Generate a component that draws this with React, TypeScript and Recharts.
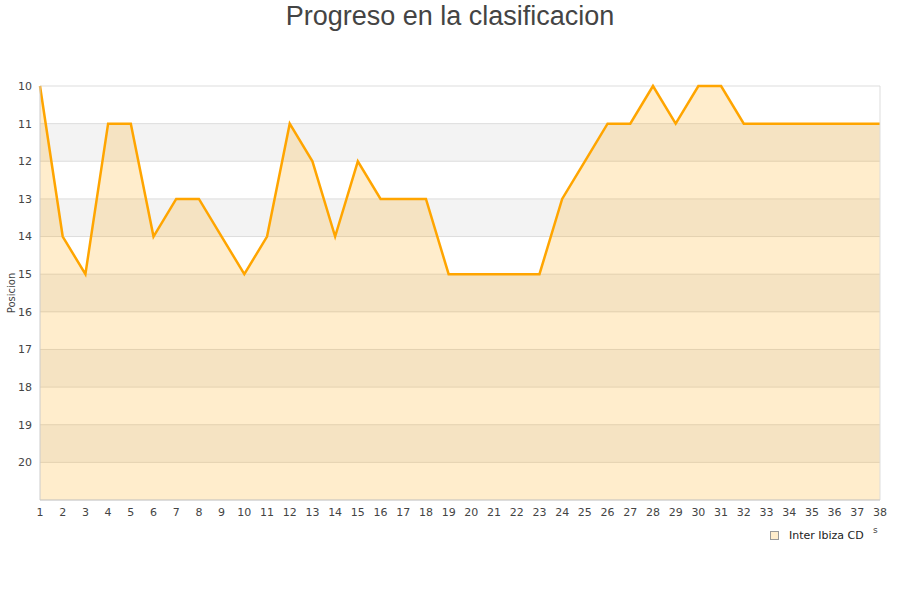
import React from 'react';
import { ComposedChart, Area, XAxis, YAxis, CartesianGrid, ReferenceLine, Label } from 'recharts';

const jornadas: number[] = Array.from({ length: 38 }, (_, i) => i + 1);
const posiciones: number[] = [
  10, 14, 15, 11, 11, 14, 13, 13, 14, 15,
  14, 11, 12, 14, 12, 13, 13, 13, 15, 15,
  15, 15, 15, 13, 12, 11, 11, 10, 11, 10,
  10, 11, 11, 11, 11, 11, 11, 11,
];
const yTicks: number[] = [10, 11, 12, 13, 14, 15, 16, 17, 18, 19, 20];
const seriesName = 'Inter Ibiza CD';
const title = 'Progreso en la clasificacion';
const yLabel = 'Posicion';

const data = jornadas.map((j, i) => ({ jornada: j, pos: posiciones[i] }));

const tickFont = { fontFamily: 'DejaVu Sans', fontSize: 11, fill: '#444' };

export default function App() {
  return (
    <div style={{ position: 'absolute', left: 0, top: 0, width: 900, height: 600, background: '#fff' }}>
      <div
        style={{
          position: 'absolute', left: 0, top: 0, width: 900, textAlign: 'center',
          fontFamily: 'Liberation Sans', fontSize: 27, lineHeight: '32px', color: '#444',
        }}
      >
        {title}
      </div>
      <ComposedChart
        width={900}
        height={600}
        data={data}
        margin={{ top: 86, right: 20, bottom: 70, left: 10 }}
      >
        <CartesianGrid
          vertical={false}
          stroke="#dddddd"
          horizontalFill={['#ffffff', '#f3f3f3']}
          fillOpacity={1}
        />
        <XAxis
          dataKey="jornada"
          type="number"
          domain={[1, 38]}
          ticks={jornadas}
          interval={0}
          tickLine={false}
          axisLine={{ stroke: '#cccccc' }}
          tick={tickFont}
        />
        <YAxis
          type="number"
          reversed
          domain={[10, 21]}
          ticks={yTicks}
          interval={0}
          width={30}
          tickLine={false}
          axisLine={{ stroke: '#cccccc' }}
          tick={tickFont}
        >
          <Label
            value={yLabel}
            angle={-90}
            position="insideLeft"
            offset={1}
            style={{ fontFamily: 'DejaVu Sans', fontSize: 10, fill: '#444', textAnchor: 'middle' }}
          />
        </YAxis>
        <ReferenceLine x={38} stroke="#dddddd" />
        <Area
          type="linear"
          dataKey="pos"
          baseValue={21}
          stroke="#ffa500"
          strokeWidth={2.5}
          fill="#ffa500"
          fillOpacity={0.2}
          dot={false}
          activeDot={false}
          isAnimationActive={false}
        />
      </ComposedChart>
      <div
        style={{
          position: 'absolute', left: 770, top: 529, display: 'flex', alignItems: 'center',
          fontFamily: 'DejaVu Sans', fontSize: 11, color: '#222',
        }}
      >
        <span
          style={{
            display: 'inline-block', width: 7, height: 7, background: '#ffedcc',
            border: '1px solid #999', marginRight: 10,
          }}
        />
        <span>{seriesName}</span>
      </div>
      <div
        style={{
          position: 'absolute', left: 873, top: 525, fontFamily: 'DejaVu Sans', fontSize: 9, color: '#444',
        }}
      >
        s
      </div>
    </div>
  );
}
